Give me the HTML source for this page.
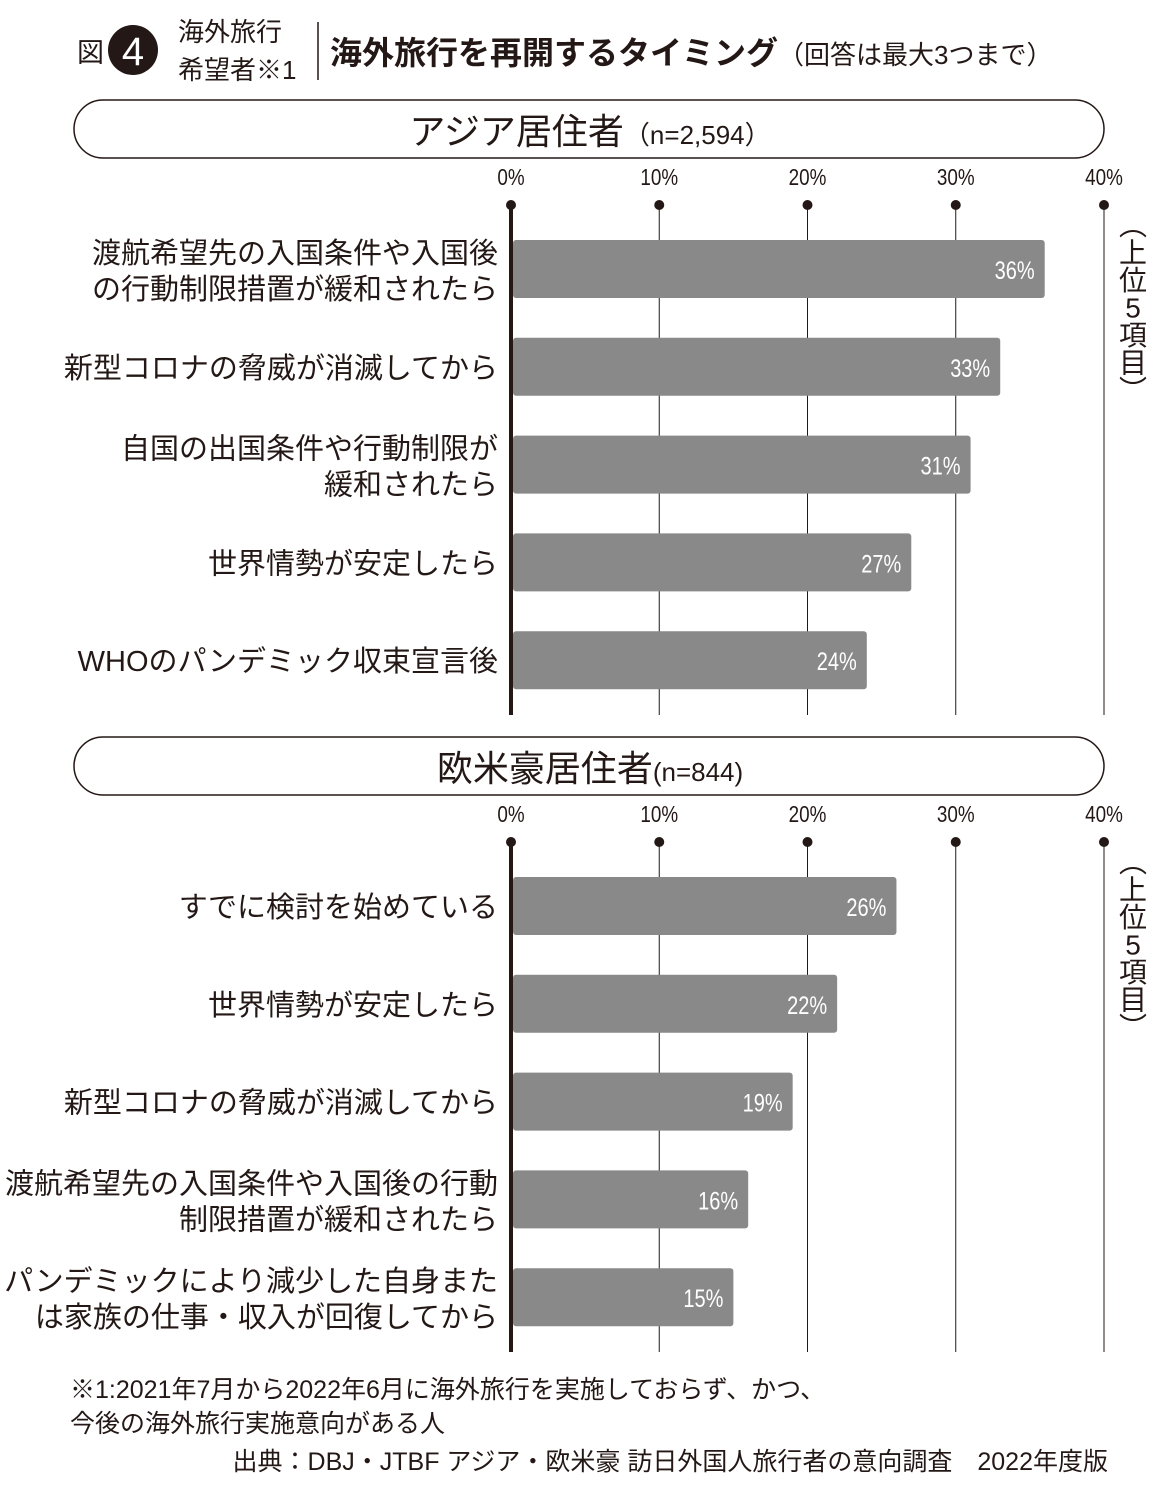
<!DOCTYPE html>
<html><head><meta charset="utf-8">
<style>
body{margin:0;background:#fff;width:1162px;height:1508px;overflow:hidden;font-family:"Liberation Sans","Noto Sans CJK JP",sans-serif;color:#231815}
svg{display:block}
text{font-family:"Liberation Sans","Noto Sans CJK JP",sans-serif;fill:#231815}
</style></head>
<body>
<svg id="chart" width="1162" height="1508">
<g>
<text x="77" y="62" font-size="27">図</text>
<circle cx="133" cy="50" r="25" fill="#231815"/>
<text x="133" y="65" font-size="40" text-anchor="middle" style="fill:#fff">4</text>
<text x="178" y="41" font-size="26">海外旅行</text>
<text x="178" y="79" font-size="26">希望者※1</text>
<line x1="318" y1="22" x2="318" y2="80" stroke="#231815" stroke-width="1.5"/>
<text x="330" y="64" font-size="32" font-weight="bold">海外旅行を再開するタイミング<tspan font-size="26" font-weight="normal">（回答は最大3つまで）</tspan></text>
</g>
<g id="p1"></g>
<g id="p2"></g>
<g>
<text x="70" y="1398" font-size="25">※1:2021年7月から2022年6月に海外旅行を実施しておらず、かつ、</text>
<text x="70" y="1432" font-size="25">今後の海外旅行実施意向がある人</text>
<text x="1108" y="1470" font-size="25" text-anchor="end">出典：DBJ・JTBF アジア・欧米豪 訪日外国人旅行者の意向調査　2022年度版</text>
</g>
</svg>
<script>
const ticks=[0,10,20,30,40];
const tickLabels=["0%","10%","20%","30%","40%"];
const asiaCats=[["渡航希望先の入国条件や入国後","の行動制限措置が緩和されたら"],["新型コロナの脅威が消滅してから"],["自国の出国条件や行動制限が","緩和されたら"],["世界情勢が安定したら"],["WHOのパンデミック収束宣言後"]];
const asiaVals=[36,33,31,27,24];
const westCats=[["すでに検討を始めている"],["世界情勢が安定したら"],["新型コロナの脅威が消滅してから"],["渡航希望先の入国条件や入国後の行動","制限措置が緩和されたら"],["パンデミックにより減少した自身また","は家族の仕事・収入が回復してから"]];
const westVals=[26,22,19,16,15];
const NS="http://www.w3.org/2000/svg";
const x0=511,x1=1104;
function xs(v){return x0+(v/40)*(x1-x0);}
function mk(g,tag,attrs,txt){const e=document.createElementNS(NS,tag);for(const k in attrs)e.setAttribute(k,attrs[k]);if(txt!==undefined)e.textContent=txt;g.appendChild(e);return e;}
function panel(gid,top,title,n,cats,vals,name){
 const g=document.getElementById(gid);
 
 
 const b=mk(g,'rect',{x:74,y:top,width:1030,height:58,rx:29,fill:'none',stroke:'#231815','stroke-width':1.5});
 
 
 const t=mk(g,'text',{x:590,y:top+44,'font-size':36,'text-anchor':'middle'});
 
 
 t.textContent=title;
 const ts=mk(t,'tspan',{'font-size':26},n);
 const ly=top+85, dy=top+105, bottom=top+615;
 ticks.forEach((v,i)=>{
  const x=xs(v);
  const tl=mk(g,'text',{x:x,y:ly,'font-size':23,'text-anchor':'middle',transform:`translate(${x},0) scale(0.82,1) translate(${-x},0)`},tickLabels[i]);
  
  
  const d=mk(g,'circle',{cx:x,cy:dy,r:5,fill:'#231815'});
  
  
  const gl=mk(g,'line',{x1:x,y1:dy,x2:x,y2:bottom,stroke:'#231815','stroke-width':i==0?4:1});
  
  
 });
 vals.forEach((v,i)=>{
  const cy=top+169+i*97.8;
  const r=mk(g,'rect',{x:x0+2,y:cy-29,width:xs(v)-x0-2,height:58,rx:3,fill:'#898989'});
  
  
  const vx=xs(v)-10;
  const vt=mk(g,'text',{x:vx,y:cy+10,'font-size':25,'text-anchor':'end',style:'fill:#fff',transform:`translate(${vx},0) scale(0.8,1) translate(${-vx},0)`},v+'%');
  
  
  const lines=cats[i];
  lines.forEach((s,j)=>{
   const yy=lines.length==1?cy+11:cy-6+j*36;
   const ct=mk(g,'text',{x:498,y:yy,'font-size':29,'text-anchor':'end'},s);
   
   
  });
 });
 const side=["︵","上","位","5","項","目","︶"];
 side.forEach((s,j)=>{
  const st=mk(g,'text',{x:1133,y:top+135+j*27.5,'font-size':28,'text-anchor':'middle'},s);
  
  
 });
}
panel('p1',100,'アジア居住者','（n=2,594）',asiaCats,asiaVals,'asia-panel');
panel('p2',737,'欧米豪居住者','(n=844)',westCats,westVals,'west-panel');
</script>
</body></html>
